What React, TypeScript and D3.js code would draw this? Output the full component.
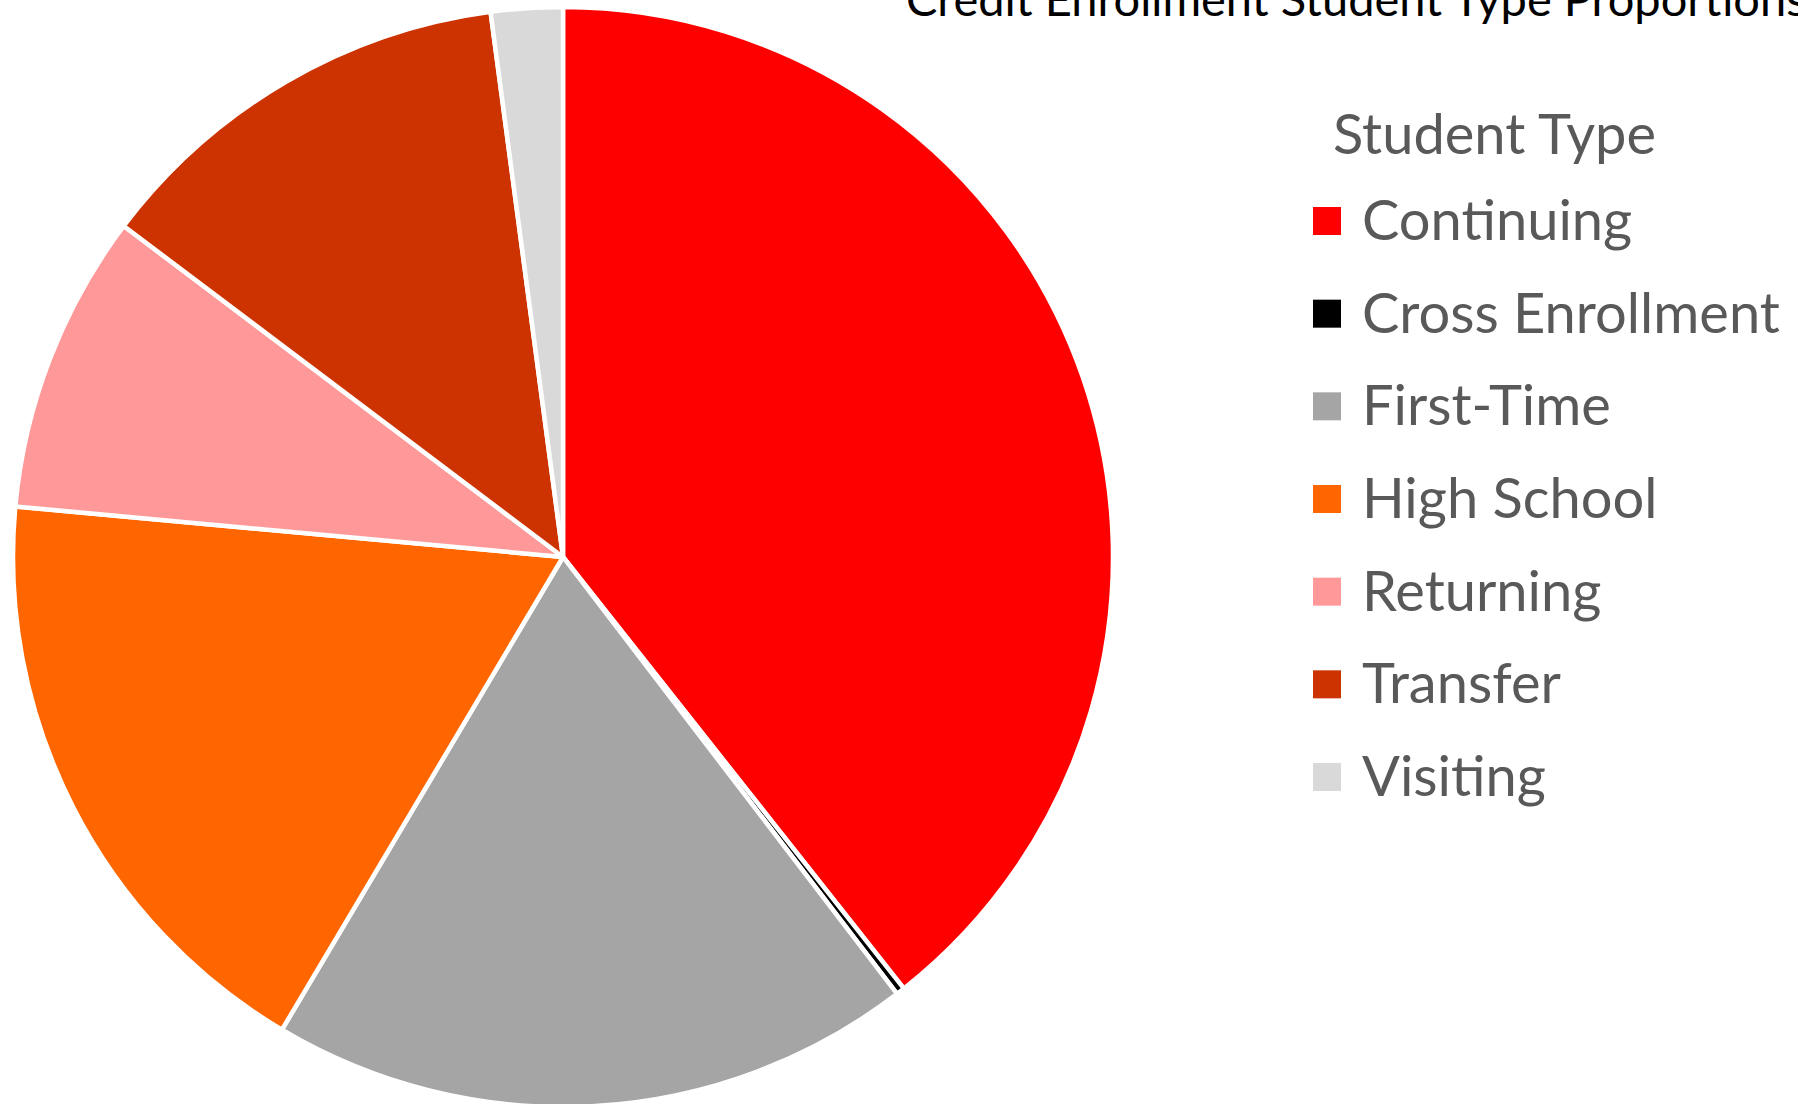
import { useEffect, useRef } from 'react';
import * as d3 from 'd3';

const categories = ['Continuing', 'Cross Enrollment', 'First-Time', 'High School', 'Returning', 'Transfer', 'Visiting'];
const shares = [39.3, 0.25, 18.9, 17.9, 8.8, 12.6, 2.1];
const colors = ['#ff0000', '#000000', '#a5a5a5', '#ff6600', '#ff9999', '#cc3300', '#d9d9d9'];
const chartTitle = 'Credit Enrollment Student Type Proportions';
const legendTitle = 'Student Type';

const W = 1798;
const H = 1104;

export default function App() {
  const ref = useRef<SVGSVGElement | null>(null);

  useEffect(() => {
    const svg = d3.select(ref.current);
    svg.selectAll('*').remove();

    const cx = 563, cy = 557, r = 550;
    const data = categories.map((c, i) => ({ name: c, value: shares[i], color: colors[i] }));
    const pie = d3.pie<any>().sort(null).value(d => d.value).startAngle(0).endAngle(2 * Math.PI);
    const arc = d3.arc<any>().innerRadius(0).outerRadius(r);

    const g = svg.append('g').attr('transform', `translate(${cx},${cy})`);
    g.selectAll('path').data(pie(data)).enter().append('path')
      .attr('d', arc)
      .style('fill', d => d.data.color)
      .style('stroke', '#fff').style('stroke-width', 4.5).style('stroke-linejoin', 'round');

    // title sits at the top edge, only its lower part shows (as in the source)
    svg.append('text')
      .attr('x', 906).attr('y', 16)
      .style('font-family', 'Lato, sans-serif').style('font-size', '47px').style('fill', '#000')
      .text(chartTitle);

    // legend
    const font = 'Lato, sans-serif';
    svg.append('text')
      .attr('x', 1333).attr('y', 154)
      .style('font-family', font).style('font-size', '56px').style('fill', '#595959')
      .text(legendTitle);

    const y = d3.scalePoint().domain(categories).range([221, 777]);
    const items = svg.append('g').selectAll('g').data(data).enter().append('g')
      .attr('transform', d => `translate(0,${y(d.name)})`);
    items.append('rect').attr('x', 1313).attr('y', -14).attr('width', 28).attr('height', 28)
      .style('fill', d => d.color);
    items.append('text').attr('x', 1362).attr('y', 19)
      .style('font-family', font).style('font-size', '56px').style('fill', '#595959')
      .text(d => d.name);
  }, []);

  return (
    <svg ref={ref} width={W} height={H}
      style={{ position: 'absolute', left: 0, top: 0, background: '#fff', overflow: 'hidden' }} />
  );
}
